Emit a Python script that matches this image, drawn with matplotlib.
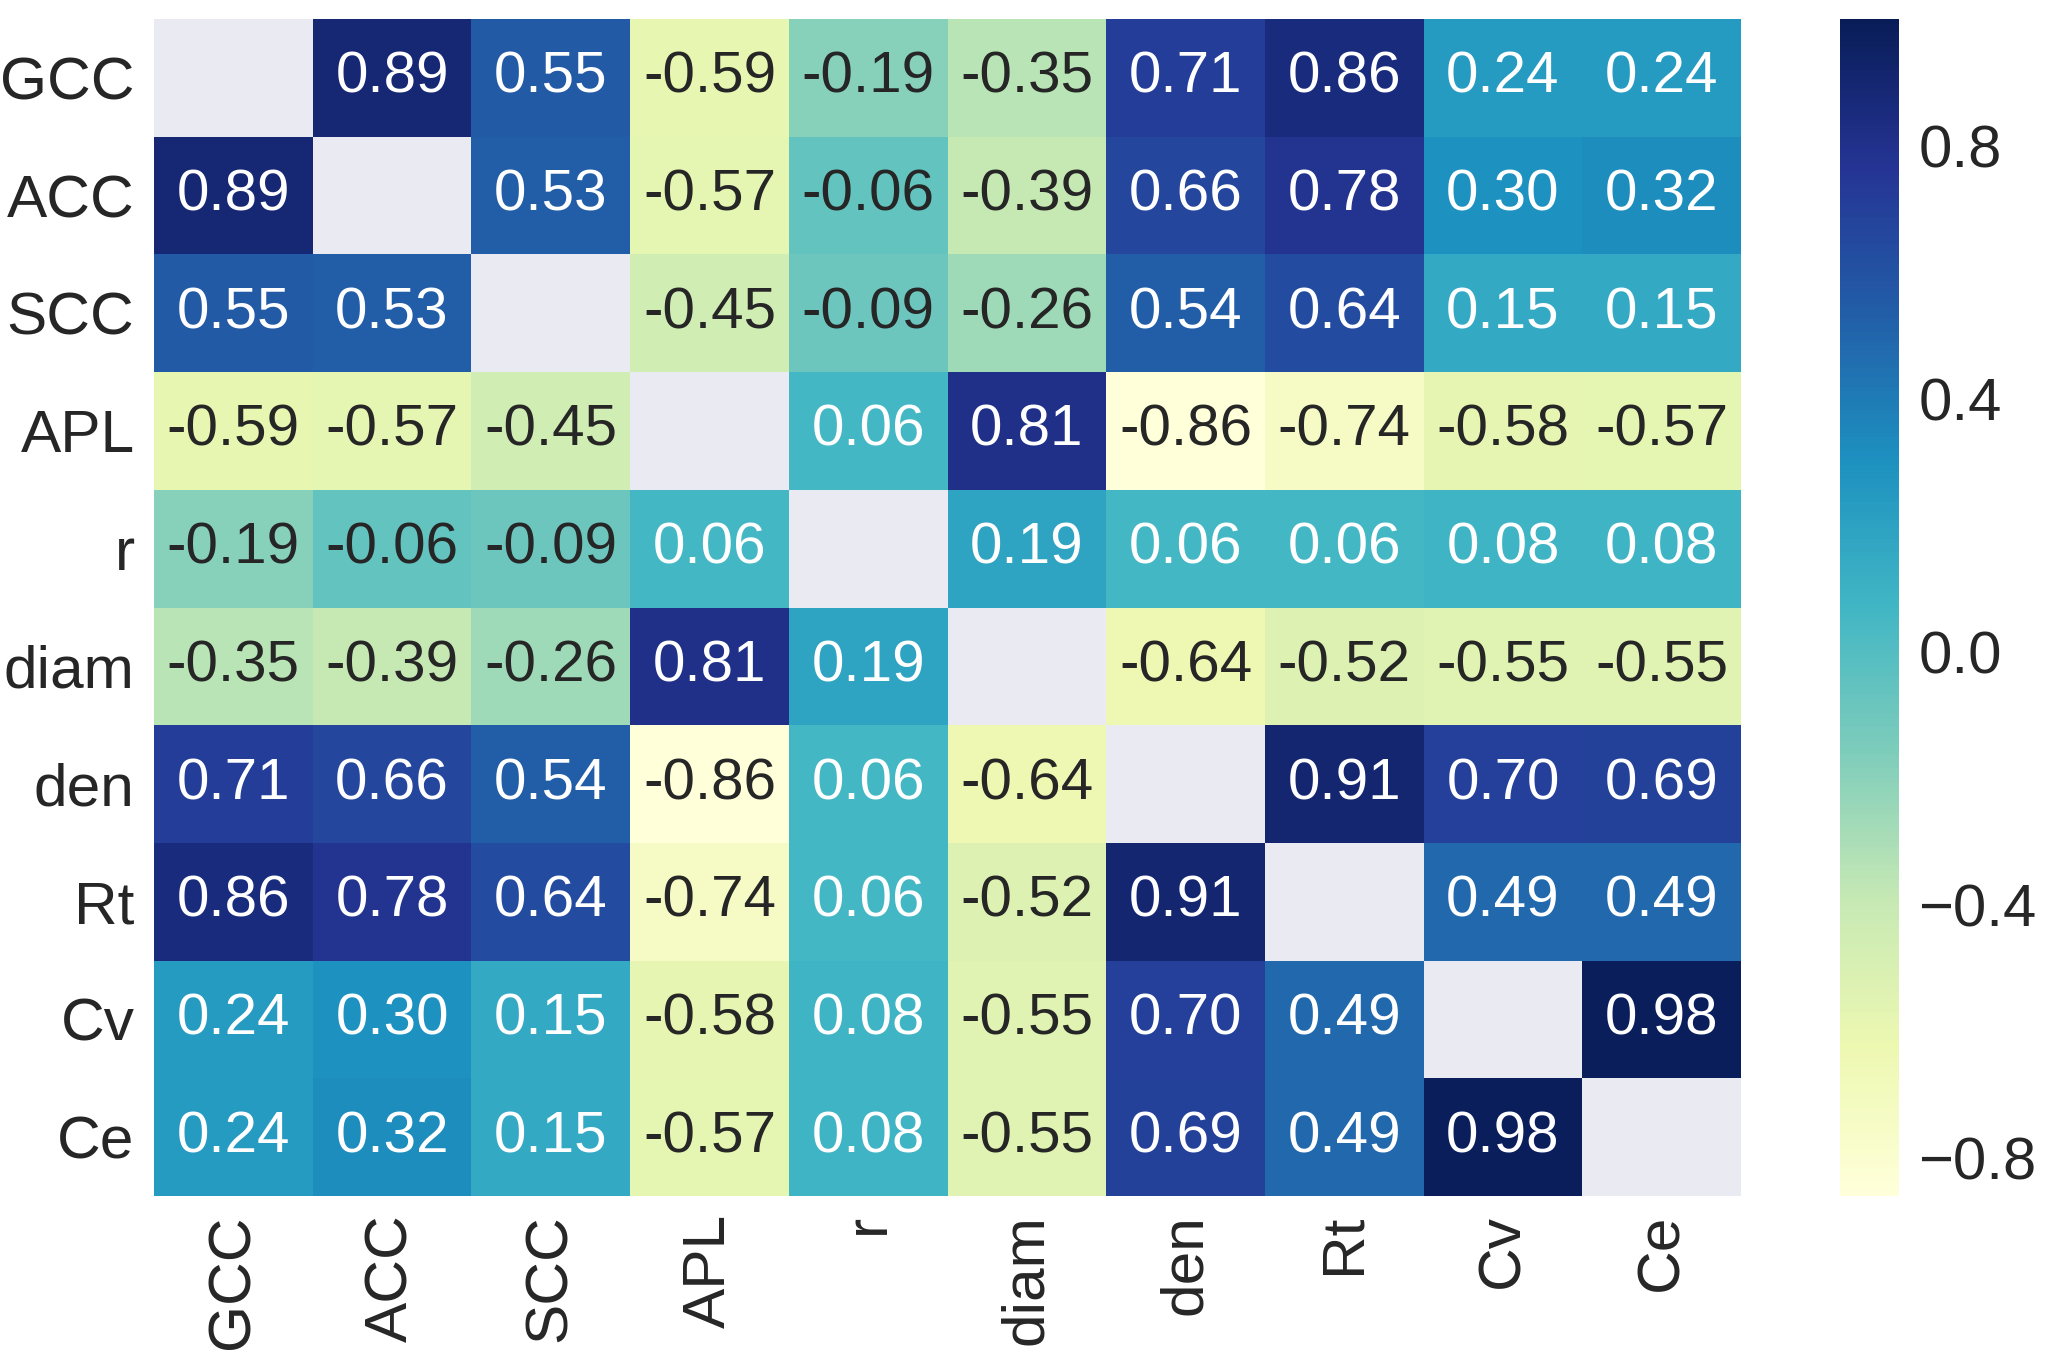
import numpy as np
import pandas as pd
import matplotlib
matplotlib.use("Agg")
import matplotlib.pyplot as plt
import seaborn as sns

labels = ["GCC", "ACC", "SCC", "APL", "r", "diam", "den", "Rt", "Cv", "Ce"]
row_GCC = [np.nan, 0.89, 0.55, -0.59, -0.19, -0.35, 0.71, 0.86, 0.24, 0.24]
row_ACC = [0.89, np.nan, 0.53, -0.57, -0.06, -0.39, 0.66, 0.78, 0.30, 0.32]
row_SCC = [0.55, 0.53, np.nan, -0.45, -0.09, -0.26, 0.54, 0.64, 0.15, 0.15]
row_APL = [-0.59, -0.57, -0.45, np.nan, 0.06, 0.81, -0.86, -0.74, -0.58, -0.57]
row_r = [-0.19, -0.06, -0.09, 0.06, np.nan, 0.19, 0.06, 0.06, 0.08, 0.08]
row_diam = [-0.35, -0.39, -0.26, 0.81, 0.19, np.nan, -0.64, -0.52, -0.55, -0.55]
row_den = [0.71, 0.66, 0.54, -0.86, 0.06, -0.64, np.nan, 0.91, 0.70, 0.69]
row_Rt = [0.86, 0.78, 0.64, -0.74, 0.06, -0.52, 0.91, np.nan, 0.49, 0.49]
row_Cv = [0.24, 0.30, 0.15, -0.58, 0.08, -0.55, 0.70, 0.49, np.nan, 0.98]
row_Ce = [0.24, 0.32, 0.15, -0.57, 0.08, -0.55, 0.69, 0.49, 0.98, np.nan]
cbar_ticks = [-0.8, -0.4, 0.0, 0.4, 0.8]

df = pd.DataFrame([row_GCC, row_ACC, row_SCC, row_APL, row_r, row_diam,
                   row_den, row_Rt, row_Cv, row_Ce], index=labels, columns=labels)

sns.set_theme(style="darkgrid")
plt.rcParams['font.family'] = ['Liberation Sans', 'DejaVu Sans']
plt.rcParams['text.color'] = '#262626'
plt.rcParams['xtick.color'] = '#262626'
plt.rcParams['ytick.color'] = '#262626'

W, H = 2047, 1359
fig = plt.figure(figsize=(W / 100, H / 100), dpi=100)
ax = fig.add_axes([154 / W, 1 - 1196 / H, (1741 - 154) / W, (1196 - 19) / H])
cax = fig.add_axes([1840 / W, 1 - 1196 / H, 59 / W, (1196 - 19) / H])

sns.heatmap(df, ax=ax, cbar_ax=cax, cmap="YlGnBu", vmin=-0.86, vmax=1.0,
            annot=True, fmt=".2f", annot_kws={"size": 42},
            cbar_kws={"ticks": cbar_ticks})

ax.grid(False)
ax.tick_params(axis='both', length=0, labelsize=43.5)
ax.tick_params(axis='x', pad=13)
ax.tick_params(axis='y', pad=14)
plt.setp(ax.get_xticklabels(), rotation=90)
plt.setp(ax.get_yticklabels(), rotation=0, va='center_baseline')
cax.grid(False)
cax.tick_params(length=0, labelsize=43, pad=14)
for sp in cax.spines.values():
    sp.set_visible(False)

fig.savefig("out.png", dpi=100)
